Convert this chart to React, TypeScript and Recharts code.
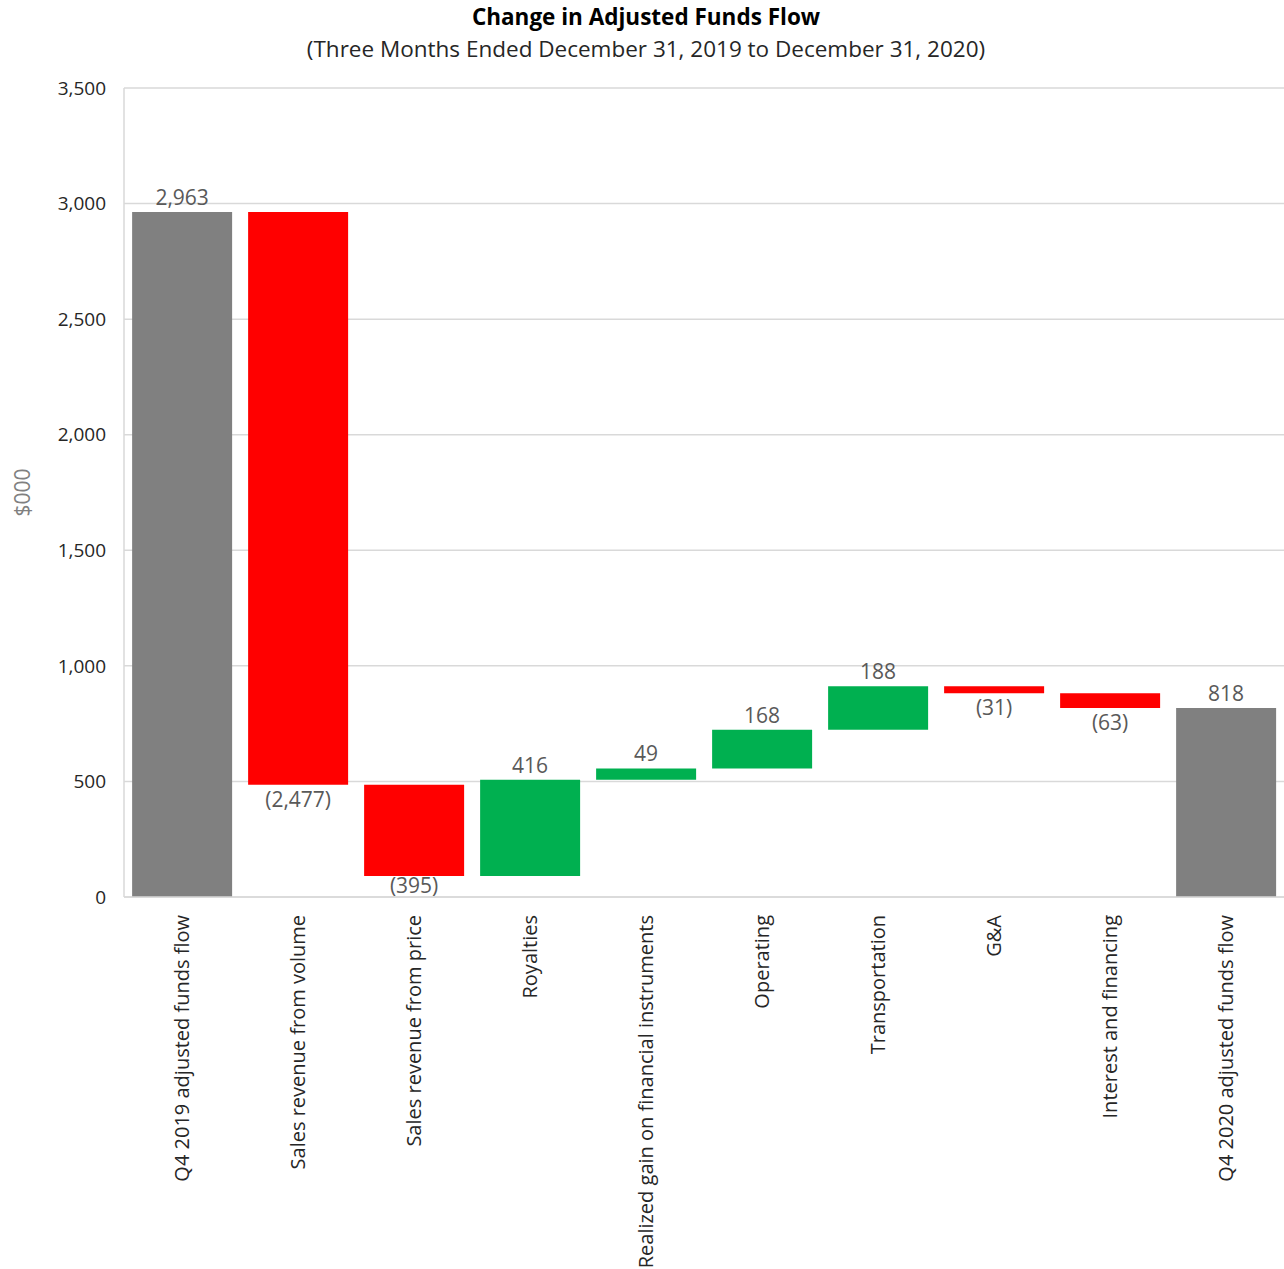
import { Bar, BarChart, CartesianGrid, Cell, LabelList, XAxis, YAxis } from "recharts";

const categories = [
  "Q4 2019 adjusted funds flow",
  "Sales revenue from volume",
  "Sales revenue from price",
  "Royalties",
  "Realized gain on financial instruments",
  "Operating",
  "Transportation",
  "G&A",
  "Interest and financing",
  "Q4 2020 adjusted funds flow",
];
const values = [2963, -2477, -395, 416, 49, 168, 188, -31, -63, 818];
const isTotal = [true, false, false, false, false, false, false, false, false, true];
const yTicks = [0, 500, 1000, 1500, 2000, 2500, 3000, 3500];

const FONT = "'Open Sans', 'Noto Sans', sans-serif";
const GRAY = "#808080";
const RED = "#ff0000";
const GREEN = "#00b050";
const PLOT_BOTTOM = 897;

// running totals -> invisible base + visible step
let running = 0;
const data = categories.map((name, i) => {
  const v = values[i];
  let base: number;
  if (isTotal[i]) {
    base = 0;
    running = v;
  } else {
    base = v < 0 ? running + v : running;
    running += v;
  }
  return {
    name,
    value: v,
    base,
    step: Math.abs(v),
    color: isTotal[i] ? GRAY : v < 0 ? RED : GREEN,
  };
});

const fmt = (v: number) => {
  const s = Math.abs(v).toLocaleString("en-US");
  return v < 0 ? `(${s})` : s;
};

function ValueLabel(props: any) {
  const { x, y, width, height, index } = props;
  const d = data[index];
  const cx = x + width / 2;
  // negative labels sit under the bar but are kept inside the plot
  const ly = d.value < 0 ? Math.min(y + height + 22, PLOT_BOTTOM - 4) : y - 7;
  return (
    <text x={cx} y={ly} textAnchor="middle" fontSize={21} fill="#595959" fontFamily={FONT}>
      {fmt(d.value)}
    </text>
  );
}

function CatTick(props: any) {
  const { x, y, payload } = props;
  return (
    <g transform={`translate(${x},${y})`}>
      <text
        transform="rotate(-90)"
        x={-10}
        y={0}
        dy="0.35em"
        textAnchor="end"
        fontSize={20}
        fill="#262626"
        fontFamily={FONT}
      >
        {payload.value}
      </text>
    </g>
  );
}

export default function App() {
  return (
    <div style={{ position: "absolute", left: 0, top: 0, width: 1284, height: 1269, background: "#fff" }}>
      <div
        style={{
          position: "absolute",
          left: 0,
          top: 2,
          width: 1292,
          textAlign: "center",
          fontFamily: FONT,
          color: "#000",
        }}
      >
        <div style={{ fontSize: 22.5, fontWeight: 700, lineHeight: "30px" }}>Change in Adjusted Funds Flow</div>
        <div style={{ fontSize: 22.5, lineHeight: "34px", color: "#262626" }}>
          (Three Months Ended December 31, 2019 to December 31, 2020)
        </div>
      </div>
      <BarChart
        width={1284}
        height={1269}
        data={data}
        margin={{ top: 88, right: 0, left: 0, bottom: 0 }}
        barCategoryGap="7%"
      >
        <CartesianGrid vertical={false} stroke="#d9d9d9" strokeWidth={1.5} />
        <XAxis
          dataKey="name"
          interval={0}
          height={372}
          axisLine={{ stroke: "#d9d9d9", strokeWidth: 1.5 }}
          tickLine={false}
          tick={<CatTick />}
        />
        <YAxis
          width={124}
          domain={[0, 3500]}
          ticks={yTicks}
          tickFormatter={(v: number) => v.toLocaleString("en-US")}
          axisLine={{ stroke: "#d9d9d9", strokeWidth: 1.5 }}
          tickLine={false}
          tick={{ fontSize: 19, fill: "#262626", fontFamily: FONT }}
          tickMargin={12}
          label={{
            value: "$000",
            angle: -90,
            position: "insideLeft",
            dx: 18,
            style: { fontSize: 21, fill: GRAY, fontFamily: FONT, textAnchor: "middle" },
          }}
        />
        <Bar dataKey="base" stackId="w" fill="transparent" isAnimationActive={false} />
        <Bar dataKey="step" stackId="w" isAnimationActive={false}>
          {data.map((d, i) => (
            <Cell key={i} fill={d.color} />
          ))}
          <LabelList dataKey="step" content={<ValueLabel />} />
        </Bar>
      </BarChart>
    </div>
  );
}
